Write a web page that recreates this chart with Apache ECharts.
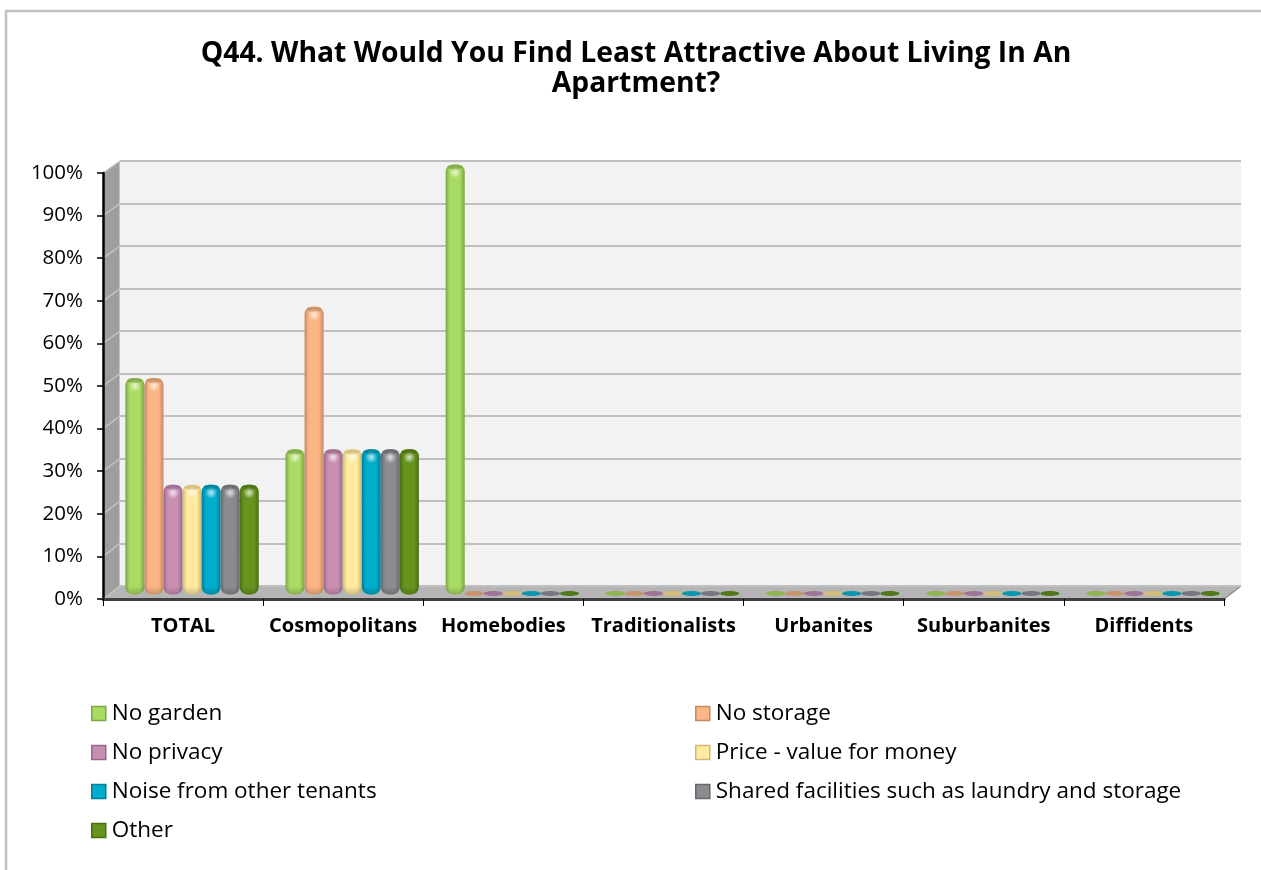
<!DOCTYPE html>
<html><head><meta charset="utf-8">
<style>html,body{margin:0;padding:0;background:#fff}#c{width:1261px;height:870px}</style>
<script src="https://cdn.jsdelivr.net/npm/echarts@6/dist/echarts.min.js"></script>
</head><body><div id="c"></div>
<script>
const categories = ['TOTAL','Cosmopolitans','Homebodies','Traditionalists','Urbanites','Suburbanites','Diffidents'];
const noGarden   = [50, 33.3, 100, 0, 0, 0, 0];
const noStorage  = [50, 66.7, 0, 0, 0, 0, 0];
const noPrivacy  = [25, 33.3, 0, 0, 0, 0, 0];
const price      = [25, 33.3, 0, 0, 0, 0, 0];
const noise      = [25, 33.3, 0, 0, 0, 0, 0];
const shared     = [25, 33.3, 0, 0, 0, 0, 0];
const other      = [25, 33.3, 0, 0, 0, 0, 0];
const seriesNames = ['No garden','No storage','No privacy','Price - value for money','Noise from other tenants','Shared facilities such as laundry and storage','Other'];
const seriesValues = [noGarden,noStorage,noPrivacy,price,noise,shared,other];
const bodyColors = ['#a8dc62','#fdb585','#c98fb3','#ffeaa0','#00adcc','#8b8b91','#66941f'];
const edgeColors = ['#7da346','#c28a63','#96698a','#cdb877','#007f99','#67676c','#4a6e12'];
const flatColors = ['#8fb552','#c8956f','#a0739a','#d0bd78','#0b96ae','#77777d','#4f7a1c'];
const FONT = '"Open Sans","Noto Sans",sans-serif';

function cyl(i){
  return {type:'linear',x:0,y:0,x2:1,y2:0,colorStops:[
    {offset:0,color:edgeColors[i]},{offset:.22,color:bodyColors[i]},
    {offset:.75,color:bodyColors[i]},{offset:1,color:edgeColors[i]}]};
}
function renderer(i){
  return function(params,api){
    const c = api.value(0), v = api.value(1);
    const top = api.coord([c,v]), base = api.coord([c,0]);
    const band = api.size([1,0])[0], w = band*0.119, x = top[0]+(i-3)*w - w/2;
    if(v===0){
      return {type:'ellipse',shape:{cx:x+w/2,cy:base[1]-1,rx:w/2,ry:2.5},style:{fill:flatColors[i]}};
    }
    const y = top[1]-3, h = base[1]-y;
    return {type:'group',children:[
      {type:'rect',shape:{x:x,y:y,width:w,height:h,r:[7,7,8,8]},style:{fill:cyl(i)}},
      {type:'rect',shape:{x:x,y:base[1]-8,width:w,height:8,r:[0,0,8,8]},style:{fill:{type:'linear',x:0,y:0,x2:0,y2:1,colorStops:[{offset:0,color:'rgba(0,0,0,0)'},{offset:1,color:'rgba(0,0,0,.2)'}]}}},
      {type:'ellipse',shape:{cx:x+w/2,cy:y+2.5,rx:w/2-2,ry:2.5},style:{fill:edgeColors[i],opacity:.8}},
      {type:'circle',shape:{cx:x+w/2,cy:y+8,r:6},style:{fill:{type:'radial',x:.5,y:.5,r:.5,colorStops:[{offset:0,color:'rgba(255,255,255,.75)'},{offset:1,color:'rgba(255,255,255,0)'}]}}}
    ]};
  };
}
const AX={l:103,r:1224,t:173,b:599}, WALL={l:120,r:1241,t:161,b:586};
const graphics=[
  {type:'rect',z:0,shape:{x:6,y:11,width:1300,height:900},style:{fill:'none',stroke:'#c0c0c0',lineWidth:2.5}},
  {type:'polygon',z:0,shape:{points:[[AX.l,AX.t],[WALL.l,WALL.t],[WALL.l,WALL.b],[AX.l,AX.b]]},style:{fill:'#9e9e9e'}},
  {type:'polygon',z:0,shape:{points:[[AX.l,AX.b],[WALL.l,WALL.b],[WALL.r,WALL.b],[AX.r,AX.b]]},style:{fill:'#b5b5b5'}},
  {type:'line',z:0,shape:{x1:AX.r,y1:AX.b,x2:WALL.r,y2:WALL.b},style:{stroke:'#8c8c8c',lineWidth:1.5}},
  {type:'line',z:0,shape:{x1:WALL.l,y1:WALL.t,x2:WALL.l,y2:WALL.b},style:{stroke:'#c4c4c4',lineWidth:2}}
];
for(let k=0;k<=10;k++){
  const ya=AX.b-(AX.b-AX.t)*k/10, yw=WALL.b-(WALL.b-WALL.t)*k/10;
  graphics.push({type:'line',z:0,shape:{x1:AX.l,y1:ya,x2:WALL.l,y2:yw},style:{stroke:'#c4c4c4',lineWidth:1.5}});
}
const legendStyle={fontFamily:FONT,fontSize:22.5,color:'#000',padding:[0,0,0,1]};
function legendFor(idx,left){
  return {left:left,top:702,padding:0,orient:'vertical',itemWidth:14,itemHeight:14,itemGap:16,textStyle:legendStyle,selectedMode:false,
    data:idx.map(i=>({name:seriesNames[i],icon:'rect',itemStyle:{color:bodyColors[i],borderColor:edgeColors[i],borderWidth:1.5}}))};
}
const chart=echarts.init(document.getElementById('c'),null,{renderer:'canvas'});
chart.setOption({
  animation:false,backgroundColor:'#fff',
  title:{text:'Q44. What Would You Find Least Attractive About Living In An\nApartment?',left:631,top:34,textAlign:'center',
    textStyle:{fontFamily:FONT,fontSize:28.3,fontWeight:'bold',color:'#000',lineHeight:30}},
  graphic:graphics,
  legend:[legendFor([0,2,4,6],91),legendFor([1,3,5],695)],
  grid:[
    {left:WALL.l,top:WALL.t,width:WALL.r-WALL.l,height:WALL.b-WALL.t,show:true,backgroundColor:'#f2f2f2',borderWidth:0,z:1},
    {left:AX.l,top:AX.t,width:AX.r-AX.l,height:AX.b-AX.t,z:2},
    {left:AX.l+9,top:167.5,width:AX.r-AX.l,height:427,z:3}
  ],
  xAxis:[
    {gridIndex:0,type:'category',data:categories,show:false},
    {gridIndex:1,type:'category',data:categories,z:3,axisLine:{lineStyle:{color:'#404040',width:3}},
     axisTick:{show:true,length:7,lineStyle:{color:'#000',width:1}},
     axisLabel:{fontFamily:FONT,fontSize:20,fontWeight:'bold',color:'#000',margin:17,interval:0}},
    {gridIndex:2,type:'category',data:categories,show:false}
  ],
  yAxis:[
    {gridIndex:0,type:'value',min:0,max:100,interval:10,z:2,axisLine:{show:false},axisTick:{show:false},axisLabel:{show:false},
     splitLine:{show:true,lineStyle:{color:'#c0c0c0',width:2}}},
    {gridIndex:1,type:'value',min:0,max:100,interval:10,z:3,splitLine:{show:false},
     axisLine:{show:true,lineStyle:{color:'#000',width:2.5}},axisTick:{show:true,length:6,lineStyle:{color:'#000',width:1.5}},
     axisLabel:{fontFamily:FONT,fontSize:20.5,color:'#000',margin:20,formatter:'{value}%'}},
    {gridIndex:2,type:'value',min:0,max:100,show:false,splitLine:{show:false}}
  ],
  series:seriesValues.map((vals,i)=>({
    name:seriesNames[i],type:'custom',xAxisIndex:2,yAxisIndex:2,z:5,
    itemStyle:{color:bodyColors[i]},
    encode:{x:0,y:1},
    data:vals.map((v,c)=>[c,v]),
    renderItem:renderer(i)
  }))
});
</script></body></html>
